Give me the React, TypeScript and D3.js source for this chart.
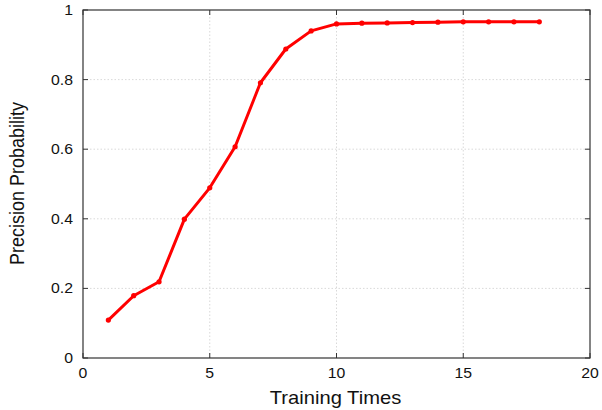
import React from "react";
import * as d3 from "d3";

const trainingTimes = [1, 2, 3, 4, 5, 6, 7, 8, 9, 10, 11, 12, 13, 14, 15, 16, 17, 18];
const precision = [0.109, 0.179, 0.219, 0.399, 0.489, 0.607, 0.791, 0.888, 0.94, 0.96, 0.962, 0.963, 0.964, 0.965, 0.966, 0.966, 0.966, 0.966];
const xTicks = [0, 5, 10, 15, 20];
const yTicks = [0, 0.2, 0.4, 0.6, 0.8, 1];
const xTitle = "Training Times";
const yTitle = "Precision Probability";

export default function App() {
  const W = 602, H = 410;
  const left = 83, right = 590, top = 10, bottom = 358;
  const x = d3.scaleLinear().domain([0, 20]).range([left, right]);
  const y = d3.scaleLinear().domain([0, 1]).range([bottom, top]);
  const line = d3.line<number>().x((_, i) => x(trainingTimes[i])).y((d) => y(d));
  const font = "'Liberation Sans', Arial, Helvetica, sans-serif";
  const tickLen = 5;
  const sx = 1.13;
  return (
    <svg width={W} height={H} style={{ position: "absolute", left: 0, top: 0 }} fontFamily={font}>
      <rect x={0} y={0} width={W} height={H} fill="#fff" />
      {xTicks.slice(1, -1).map((t) => (
        <line key={"gx" + t} x1={x(t)} x2={x(t)} y1={top} y2={bottom} stroke="#cfcfcf" strokeWidth={0.8} strokeDasharray="1.5,2" />
      ))}
      {yTicks.slice(1, -1).map((t) => (
        <line key={"gy" + t} x1={left} x2={right} y1={y(t)} y2={y(t)} stroke="#cfcfcf" strokeWidth={0.8} strokeDasharray="1.5,2" />
      ))}
      {xTicks.map((t) => (
        <g key={"tx" + t}>
          <line x1={x(t)} x2={x(t)} y1={bottom} y2={bottom - tickLen} stroke="#333" />
          <line x1={x(t)} x2={x(t)} y1={top} y2={top + tickLen} stroke="#333" />
          <g transform={`translate(${x(t)},378) scale(${sx},1)`}>
            <text textAnchor="middle" fontSize={14} fill="#111">{t}</text>
          </g>
        </g>
      ))}
      {yTicks.map((t) => (
        <g key={"ty" + t}>
          <line x1={left} x2={left + tickLen} y1={y(t)} y2={y(t)} stroke="#333" />
          <line x1={right} x2={right - tickLen} y1={y(t)} y2={y(t)} stroke="#333" />
          <g transform={`translate(73,${y(t) + 5}) scale(${sx},1)`}>
            <text textAnchor="end" fontSize={14} fill="#111">{t}</text>
          </g>
        </g>
      ))}
      <rect x={left} y={top} width={right - left} height={bottom - top} fill="none" stroke="#333" strokeWidth={1.2} />
      <path d={line(precision) || ""} fill="none" stroke="#ff0000" strokeWidth={3} strokeLinejoin="round" />
      {precision.map((v, i) => (
        <circle key={i} cx={x(trainingTimes[i])} cy={y(v)} r={2.6} fill="#ff0000" />
      ))}
      <g transform={`translate(${(left + right) / 2 - 1},404) scale(1.12,1)`}>
        <text textAnchor="middle" fontSize={18} fill="#111">{xTitle}</text>
      </g>
      <g transform={`translate(24,${(top + bottom) / 2 - 0.5}) scale(1.15,1) rotate(-90)`}>
        <text textAnchor="middle" fontSize={18} fill="#111">{yTitle}</text>
      </g>
    </svg>
  );
}
